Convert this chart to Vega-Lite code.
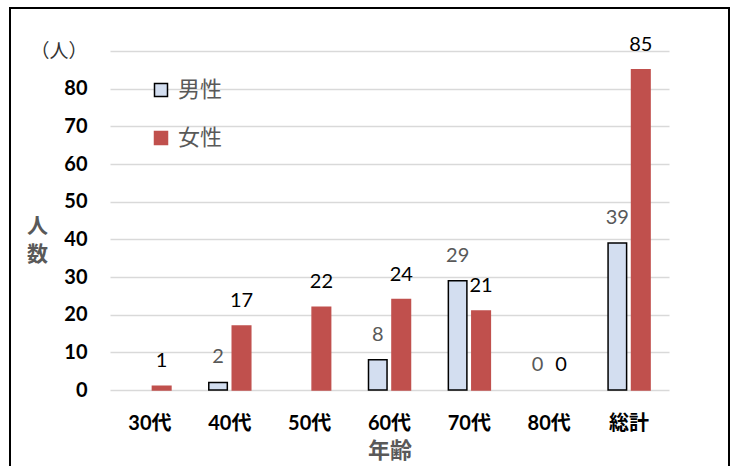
{
  "$schema": "https://vega.github.io/schema/vega-lite/v6.json",
  "width": 719,
  "height": 461,
  "autosize": "none",
  "padding": {"left": 10, "top": 8, "right": 2, "bottom": 0},
  "background": "white",
  "config": {
    "view": {"stroke": "black", "strokeWidth": 2},
    "font": "Lato, 'Noto Sans CJK JP'"
  },
  "data": {
    "values": [
      {"年代": "30代", "性別": "女性", "人数": 1},
      {"年代": "40代", "性別": "男性", "人数": 2},
      {"年代": "40代", "性別": "女性", "人数": 17},
      {"年代": "50代", "性別": "女性", "人数": 22},
      {"年代": "60代", "性別": "男性", "人数": 8},
      {"年代": "60代", "性別": "女性", "人数": 24},
      {"年代": "70代", "性別": "男性", "人数": 29},
      {"年代": "70代", "性別": "女性", "人数": 21},
      {"年代": "80代", "性別": "男性", "人数": 0},
      {"年代": "80代", "性別": "女性", "人数": 0},
      {"年代": "総計", "性別": "男性", "人数": 39},
      {"年代": "総計", "性別": "女性", "人数": 85}
    ]
  },
  "encoding": {
    "x": {
      "field": "年代",
      "type": "nominal",
      "sort": ["30代", "40代", "50代", "60代", "70代", "80代", "総計"],
      "scale": {"range": [100, 659], "paddingInner": 0.474, "paddingOuter": 0.237},
      "axis": {
        "title": "年齢",
        "labelAngle": 0,
        "domain": false,
        "ticks": false,
        "tickSize": 0,
        "grid": false,
        "offset": -79,
        "labelPadding": 23,
        "labelFontSize": 20,
        "labelFontWeight": "bold",
        "labelColor": "black",
        "titleFontSize": 22,
        "titleFontWeight": "bold",
        "titleColor": "#595959",
        "titleY": 60,
        "titleBaseline": "middle",
        "titlePadding": 0
      }
    },
    "xOffset": {
      "field": "性別",
      "type": "nominal",
      "sort": ["男性", "女性"],
      "scale": {"paddingInner": 0.21, "paddingOuter": 0}
    },
    "y": {
      "field": "人数",
      "type": "quantitative",
      "scale": {"domain": [0, 90], "range": [382, 43], "nice": false, "zero": true},
      "axis": {
        "values": [0, 10, 20, 30, 40, 50, 60, 70, 80, 90],
        "labelExpr": "datum.value == 90 ? '（人）' : datum.label",
        "offset": -100,
        "domain": false,
        "ticks": false,
        "tickSize": 0,
        "labelPadding": 23,
        "labelFontSize": {"condition": {"test": "datum.value == 90", "value": 19}, "value": 20},
        "labelFontWeight": {"condition": {"test": "datum.value == 90", "value": "normal"}, "value": "bold"},
        "labelColor": {"condition": {"test": "datum.value == 90", "value": "#333333"}, "value": "black"},
        "gridColor": "#d9d9d9",
        "gridWidth": 1.5,
        "title": ["人", "数"],
        "titleAngle": 0,
        "titleX": -73,
        "titleY": 218,
        "titleAlign": "center",
        "titleBaseline": "middle",
        "titleFontSize": 21,
        "titleFontWeight": "bold",
        "titleColor": "#595959",
        "titleLineHeight": 28
      }
    }
  },
  "layer": [
    {
      "transform": [{"filter": "datum['人数'] > 0"}],
      "mark": {"type": "bar", "strokeWidth": 1.5},
      "encoding": {
        "fill": {
          "field": "性別",
          "type": "nominal",
          "sort": ["男性", "女性"],
          "scale": {"domain": ["男性", "女性"], "range": ["#d3def0", "#C0504D"]},
          "legend": {
            "title": null,
            "orient": "none",
            "legendX": 140,
            "legendY": 71,
            "symbolType": "square",
            "symbolSize": 169,
            "symbolStrokeWidth": 1.5,
            "labelFontSize": 22,
            "labelColor": "#595959",
            "labelOffset": 6,
            "rowPadding": 26,
            "padding": 0
          }
        },
        "stroke": {
          "field": "性別",
          "type": "nominal",
          "sort": ["男性", "女性"],
          "scale": {"domain": ["男性", "女性"], "range": ["#000000", "#C0504D"]},
          "legend": {
            "title": null,
            "orient": "none",
            "legendX": 140,
            "legendY": 71,
            "symbolType": "square",
            "symbolSize": 169,
            "symbolStrokeWidth": 1.5,
            "labelFontSize": 22,
            "labelColor": "#595959",
            "labelOffset": 6,
            "rowPadding": 26,
            "padding": 0
          }
        }
      }
    },
    {
      "mark": {"type": "text", "dy": -25, "fontSize": 20, "baseline": "middle"},
      "encoding": {
        "text": {"field": "人数", "type": "quantitative"},
        "color": {
          "condition": {"test": "datum['性別'] === '男性'", "value": "#595959"},
          "value": "#000000"
        }
      }
    }
  ]
}
